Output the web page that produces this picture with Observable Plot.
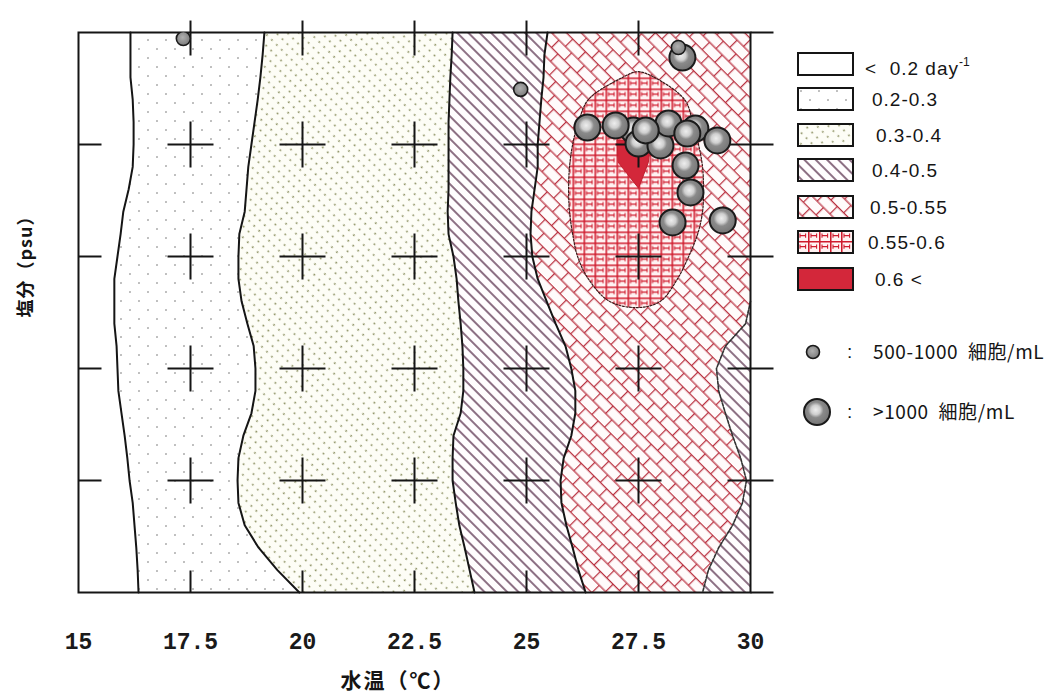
<!DOCTYPE html>
<html><head><meta charset="utf-8">
<script src="https://cdn.jsdelivr.net/npm/d3@7"></script>
<script src="https://cdn.jsdelivr.net/npm/@observablehq/plot@0.6"></script>
<style>
body{margin:0;background:#fff;}
#wrap{position:relative;width:1059px;height:693px;overflow:hidden;background:#fff;}
#wrap > svg{position:absolute;left:0;top:0;}
.lg{position:absolute;font-family:"Liberation Sans",Arial,sans-serif;font-size:19px;letter-spacing:1px;color:#151515;line-height:1;white-space:nowrap;}
.sw{position:absolute;left:797px;width:57px;height:24px;}
.ttl{position:absolute;font-family:"Noto Sans CJK JP",sans-serif;font-weight:700;color:#151515;white-space:nowrap;}
</style></head><body>
<svg width="0" height="0" style="position:absolute">
<defs>
  <pattern id="p23" patternUnits="userSpaceOnUse" width="18" height="18">
    <circle cx="4" cy="4" r="0.95" fill="#a5a5a5"/><circle cx="13" cy="13" r="0.95" fill="#a5a5a5"/>
  </pattern>
  <pattern id="p34" patternUnits="userSpaceOnUse" width="7" height="8" patternTransform="rotate(45)">
    <rect width="7" height="8" fill="#fdfdf6"/><circle cx="3.5" cy="4" r="0.95" fill="#8a8f60"/>
  </pattern>
  <pattern id="p45" patternUnits="userSpaceOnUse" width="8" height="8" patternTransform="rotate(45)">
    <rect width="8" height="8" fill="#fffdfe"/><line x1="0" y1="4" x2="8" y2="4" stroke="#4f2341" stroke-width="1.3"/>
  </pattern>
  <pattern id="p5055" patternUnits="userSpaceOnUse" width="18" height="21" patternTransform="rotate(45)">
    <rect width="18" height="21" fill="#fffbfb"/>
    <path d="M0,0.6H18M0,11.1H18M0.6,0.6V11.1M9.6,11.1V21" stroke="#b9303f" stroke-width="1.25" fill="none"/>
  </pattern>
  <pattern id="p5560" patternUnits="userSpaceOnUse" width="11" height="11">
    <rect width="11" height="11" fill="#fff2f2"/>
    <path d="M0,0.7H11M0.7,0V11" stroke="#cf1b2d" stroke-width="1.7" fill="none"/>
    <path d="M3,5.6H8.6M3,3.4V7.8M8.6,3.4V7.8" stroke="#cf1b2d" stroke-width="1.1" fill="none"/>
  </pattern>
  <radialGradient id="ballL" cx="0.45" cy="0.42" r="0.6">
    <stop offset="0" stop-color="#eeeeee"/><stop offset="0.3" stop-color="#cfcfcf"/>
    <stop offset="0.5" stop-color="#8a8a8a"/><stop offset="1" stop-color="#747474"/>
  </radialGradient>
  <radialGradient id="ballS" cx="0.45" cy="0.42" r="0.6">
    <stop offset="0" stop-color="#b0b0b0"/><stop offset="1" stop-color="#7a7a7a"/>
  </radialGradient>
</defs></svg>
<div id="wrap"></div>
<script>
// ---- scales / ticks ----
const xDomain = [15, 30];
const yDomain = [10, 35];
const xTicks = [15, 17.5, 20, 22.5, 25, 27.5, 30];
const xGrid = [17.5, 20, 22.5, 25, 27.5];
const yGrid = [30, 25, 20, 15];

// ---- contour boundaries (water temperature at each salinity level) ----
const salinity = [35,34,33,32,31,30,29,28,27,26,25,24,23,22,21,20,19,18,17,16,15,14,13,12,11,10];
const b1 = [16.16,16.16,16.16,16.21,16.23,16.23,16.21,16.12,16.0,15.94,15.87,15.8,15.8,15.8,15.85,15.87,15.89,15.96,16.03,16.09,16.14,16.21,16.25,16.29,16.32,16.34]; // 0.2
const b2 = [19.15,19.11,19.06,19.0,18.93,18.86,18.79,18.75,18.71,18.59,18.57,18.57,18.64,18.77,18.91,18.95,18.95,18.86,18.68,18.57,18.55,18.57,18.71,19.02,19.44,19.93]; // 0.3
const b3 = [23.35,23.33,23.30,23.28,23.26,23.26,23.26,23.26,23.24,23.26,23.37,23.44,23.48,23.53,23.57,23.59,23.59,23.53,23.37,23.35,23.35,23.42,23.50,23.62,23.73,23.84]; // 0.4
const b4 = [25.47,25.40,25.38,25.33,25.29,25.25,25.25,25.18,25.11,25.09,25.13,25.25,25.45,25.65,25.87,26.0,26.09,26.09,26.0,25.83,25.76,25.78,25.89,26.03,26.16,26.32]; // 0.5
const b5 = [30,30,30,30,30,30,30,30,30,30,30,30,30,29.89,29.44,29.24,29.29,29.44,29.60,29.78,29.91,29.82,29.60,29.29,29.06,28.93]; // 0.5 (right side)

// 0.55-0.6 zone outline (clockwise)
const zoneT = [27.48,27.85,28.53,28.71,28.84,28.93,28.95,28.93,28.82,28.62,28.37,27.99,27.48,26.85,26.38,26.14,26.03,25.96,25.94,25.96,26.03,26.16,26.38,27.15];
const zoneS = [33.25,33,32,31,30,29,28,27,26,25,24,23,22.72,23,24,25,26,27,28,29,30,31,32,33];
// >0.6 zone outline
const peakT = [27.03,27.77,27.72,27.50,27.05];
const peakS = [30.2,30.2,29.2,28.05,29.2];

// ---- cell density observations ----
const cells500T = [17.34, 24.87, 28.39];
const cells500S = [34.73, 32.46, 34.33];
const cells1000T = [27.39,28.77,27.50,27.99,26.36,26.99,28.17,27.66,28.59,29.26,28.55,28.66,28.26,29.38,28.48];
const cells1000S = [30.63,30.71,30.04,29.96,30.76,30.85,30.94,30.63,30.49,30.18,29.06,27.86,26.52,26.61,33.88];

// ---- legend ----
const rateLabels = ["<\u00a0\u00a00.2 day", "0.2-0.3", "0.3-0.4", "0.4-0.5", "0.5-0.55", "0.55-0.6", "0.6 <"];
const rateFills = ["#ffffff", "url(#p23)", "url(#p34)", "url(#p45)", "url(#p5055)", "url(#p5560)", "#d3273a"];
const cellLabels = ["500-1000\u00a0 細胞/mL", ">1000\u00a0 細胞/mL"];
const xTitle = "水温（℃）";
const yTitle = "塩分（psu）";

// ---- build tables ----
const rows = salinity.map((s, i) => ({s, b1: b1[i], b2: b2[i], b3: b3[i], b4: b4[i], b5: b5[i], xmax: xDomain[1]}));
const zone = zoneT.map((t, i) => ({t, s: zoneS[i]}));
const peak = peakT.map((t, i) => ({t, s: peakS[i]}));
const small = cells500T.map((t, i) => ({t, s: cells500S[i]}));
const large = cells1000T.map((t, i) => ({t, s: cells1000S[i]}));
const crosses = xGrid.flatMap(t => yGrid.map(s => ({t, s})));

function seg(x0, y0, x1, y1) {
  return {draw(ctx, size) { const r = Math.sqrt(size / Math.PI); ctx.moveTo(x0 * r, y0 * r); ctx.lineTo(x1 * r, y1 * r); }};
}
const plusSym = {draw(ctx, size) { const r = Math.sqrt(size / Math.PI); ctx.moveTo(-r, 0); ctx.lineTo(r, 0); ctx.moveTo(0, -r); ctx.lineTo(0, r); }};
const ink = "#151515";

const chart = Plot.plot({
  width: 790, height: 693,
  marginLeft: 78, marginRight: 40, marginTop: 32, marginBottom: 101,
  x: {domain: xDomain, axis: null},
  y: {domain: yDomain, axis: null},
  marks: [
    Plot.areaX(rows, {y: "s", x1: "b1", x2: "b2", fill: rateFills[1]}),
    Plot.areaX(rows, {y: "s", x1: "b2", x2: "b3", fill: rateFills[2]}),
    Plot.areaX(rows, {y: "s", x1: "b3", x2: "b4", fill: rateFills[3]}),
    Plot.areaX(rows, {y: "s", x1: "b5", x2: "xmax", fill: rateFills[3]}),
    Plot.areaX(rows, {y: "s", x1: "b4", x2: "b5", fill: rateFills[4]}),
    Plot.line(zone, {x: "t", y: "s", curve: "catmull-rom-closed", fill: rateFills[5], stroke: "#3a1a1a", strokeWidth: 1.2, strokeDasharray: "2,1.5"}),
    Plot.line(peak, {x: "t", y: "s", curve: "linear-closed", fill: rateFills[6], stroke: "#c01f2e", strokeWidth: 1}),
    Plot.line(rows, {x: "b1", y: "s", stroke: ink, strokeWidth: 2}),
    Plot.line(rows, {x: "b2", y: "s", stroke: ink, strokeWidth: 2}),
    Plot.line(rows, {x: "b3", y: "s", stroke: ink, strokeWidth: 2}),
    Plot.line(rows, {x: "b4", y: "s", stroke: ink, strokeWidth: 2}),
    Plot.line(rows.slice(12), {x: "b5", y: "s", stroke: "#333", strokeWidth: 1.6, strokeDasharray: "3,1.5"}),
    Plot.dot(crosses, {x: "t", y: "s", symbol: plusSym, r: 23, fill: "none", stroke: ink, strokeWidth: 2}),
    Plot.frame({stroke: ink, strokeWidth: 2}),
    Plot.dot(yGrid, {x: () => xDomain[0], y: d => d, symbol: seg(0, 0, 1, 0), r: 23, fill: "none", stroke: ink, strokeWidth: 2}),
    Plot.dot(yGrid, {x: () => xDomain[1], y: d => d, symbol: seg(-1, 0, 1, 0), r: 23, fill: "none", stroke: ink, strokeWidth: 2}),
    Plot.dot(yDomain, {x: () => xDomain[1], y: d => d, symbol: seg(0, 0, 1, 0), r: 23, fill: "none", stroke: ink, strokeWidth: 2}),
    Plot.dot(xGrid, {x: d => d, y: () => yDomain[1], symbol: seg(0, -0.52, 0, 1), r: 23, fill: "none", stroke: ink, strokeWidth: 2}),
    Plot.dot(xGrid, {x: d => d, y: () => yDomain[0], symbol: seg(0, -1, 0, 0), r: 22, fill: "none", stroke: ink, strokeWidth: 2}),
    Plot.dot(large, {x: "t", y: "s", r: 13, fill: "url(#ballL)", stroke: "#1a1a1a", strokeWidth: 2, clip: true}),
    Plot.dot(small, {x: "t", y: "s", r: 7, fill: "url(#ballS)", stroke: "#1a1a1a", strokeWidth: 1.6, clip: true}),
    Plot.axisX(xTicks, {anchor: "bottom", tickSize: 0, tickPadding: 40, tickFormat: d => String(d), label: null,
      fontSize: 23, fontFamily: "Liberation Mono, monospace", fontWeight: "bold", fill: "#1a1a1a"})
  ]
});
const wrap = document.getElementById("wrap");
wrap.appendChild(chart);

// legend (HTML)
const swTop = [52, 87, 123, 158, 195, 230, 267];
const lbLeft = [865, 872, 876, 872, 870, 868, 875];
rateLabels.forEach((lab, i) => {
  const sw = document.createElement("div");
  sw.className = "sw"; sw.style.top = swTop[i] + "px";
  sw.innerHTML = `<svg width="57" height="24"><rect x="1" y="1" width="55" height="22" fill="${rateFills[i]}" stroke="#151515" stroke-width="2"/></svg>`;
  wrap.appendChild(sw);
  const t = document.createElement("div");
  t.className = "lg"; t.style.left = lbLeft[i] + "px"; t.style.top = (swTop[i] + 3) + "px";
  t.textContent = lab;
  if (i === 0) {
    t.style.top = (swTop[i] + 7) + "px";
    const sup = document.createElement("span");
    sup.textContent = "-1";
    sup.style.cssText = "font-size:12px;position:relative;top:-9px;letter-spacing:0";
    t.appendChild(sup);
  }
  wrap.appendChild(t);
});
const cellY = [352, 412], cellR = [6.5, 13], cellFill = ["url(#ballS)", "url(#ballL)"], cellCx = [813, 817];
cellLabels.forEach((lab, i) => {
  const d = document.createElement("div");
  d.style.cssText = `position:absolute;left:${cellCx[i] - 16}px;top:${cellY[i] - 16}px;width:32px;height:32px`;
  d.innerHTML = `<svg width="32" height="32"><circle cx="16" cy="16" r="${cellR[i]}" fill="${cellFill[i]}" stroke="#1a1a1a" stroke-width="${i ? 2 : 1.6}"/></svg>`;
  wrap.appendChild(d);
  const c = document.createElement("div");
  c.className = "lg"; c.style.left = "847px"; c.style.top = (cellY[i] - 10) + "px"; c.textContent = ":";
  wrap.appendChild(c);
  const t = document.createElement("div");
  t.className = "lg"; t.style.left = "873px"; t.style.top = (cellY[i] - 11) + "px";
  t.style.fontFamily = '"Noto Sans CJK JP", sans-serif'; t.style.fontSize = "19px"; t.style.letterSpacing = "0.6px";
  t.textContent = lab;
  wrap.appendChild(t);
});
// axis titles
const xt = document.createElement("div");
xt.className = "ttl"; xt.textContent = xTitle;
xt.style.cssText += "left:398px;top:679px;font-size:21px;letter-spacing:2px;transform:translate(-50%,-50%);";
wrap.appendChild(xt);
const yt = document.createElement("div");
yt.className = "ttl"; yt.textContent = yTitle;
yt.style.cssText += "left:24px;top:262px;font-size:18px;letter-spacing:1px;transform:translate(-50%,-50%) rotate(-90deg);";
wrap.appendChild(yt);
</script>
</body></html>
